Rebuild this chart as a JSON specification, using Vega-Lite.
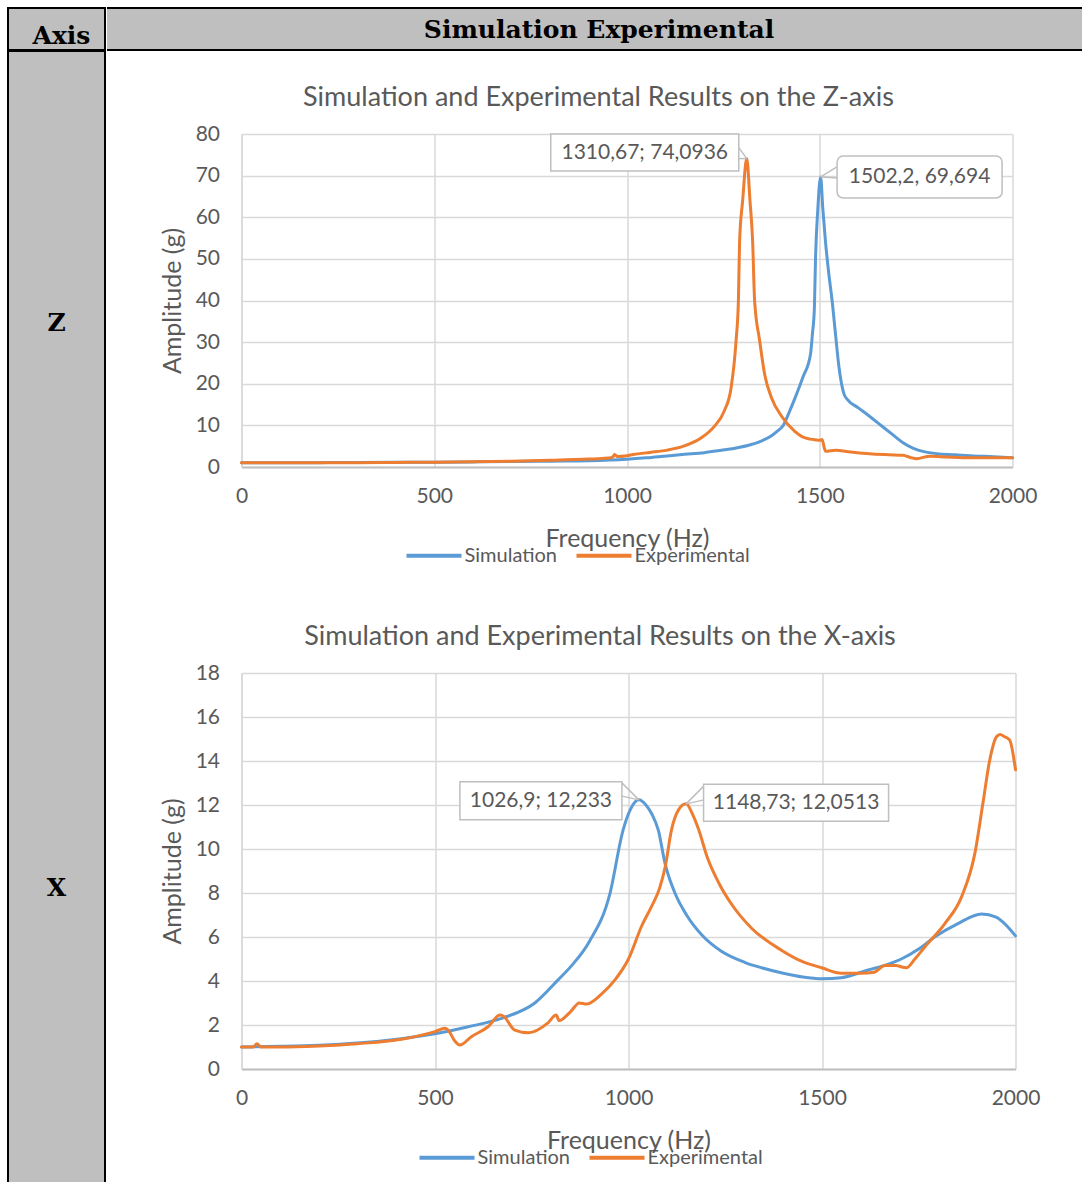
{
  "$schema": "https://vega.github.io/schema/vega-lite/v6.json",
  "padding": {"left": 7, "top": 7, "right": 0, "bottom": 0},
  "background": "white",
  "datasets": {
    "curves": [
      {"panel":"Z","series":"Simulation","f":0,"a":1.0},{"panel":"Z","series":"Simulation","f":100,"a":1.02},{"panel":"Z","series":"Simulation","f":200,"a":1.05},{"panel":"Z","series":"Simulation","f":300,"a":1.08},{"panel":"Z","series":"Simulation","f":400,"a":1.12},{"panel":"Z","series":"Simulation","f":500,"a":1.17},{"panel":"Z","series":"Simulation","f":600,"a":1.23},{"panel":"Z","series":"Simulation","f":700,"a":1.3},{"panel":"Z","series":"Simulation","f":800,"a":1.4},{"panel":"Z","series":"Simulation","f":900,"a":1.5},{"panel":"Z","series":"Simulation","f":1000,"a":1.85},{"panel":"Z","series":"Simulation","f":1050,"a":2.2},{"panel":"Z","series":"Simulation","f":1104,"a":2.67},{"panel":"Z","series":"Simulation","f":1150,"a":3.05},{"panel":"Z","series":"Simulation","f":1200,"a":3.45},{"panel":"Z","series":"Simulation","f":1235,"a":3.9},{"panel":"Z","series":"Simulation","f":1280,"a":4.5},{"panel":"Z","series":"Simulation","f":1322,"a":5.4},{"panel":"Z","series":"Simulation","f":1350,"a":6.3},{"panel":"Z","series":"Simulation","f":1375,"a":7.5},{"panel":"Z","series":"Simulation","f":1390,"a":8.6},{"panel":"Z","series":"Simulation","f":1406,"a":10.1},{"panel":"Z","series":"Simulation","f":1420,"a":13.0},{"panel":"Z","series":"Simulation","f":1436,"a":16.6},{"panel":"Z","series":"Simulation","f":1456,"a":21.5},{"panel":"Z","series":"Simulation","f":1476,"a":27.1},{"panel":"Z","series":"Simulation","f":1481,"a":32},{"panel":"Z","series":"Simulation","f":1486,"a":38},{"panel":"Z","series":"Simulation","f":1489,"a":50},{"panel":"Z","series":"Simulation","f":1495,"a":62},{"panel":"Z","series":"Simulation","f":1502.2,"a":69.694},{"panel":"Z","series":"Simulation","f":1508,"a":62},{"panel":"Z","series":"Simulation","f":1515,"a":54},{"panel":"Z","series":"Simulation","f":1524,"a":46},{"panel":"Z","series":"Simulation","f":1532,"a":40},{"panel":"Z","series":"Simulation","f":1541,"a":31.8},{"panel":"Z","series":"Simulation","f":1550,"a":23.9},{"panel":"Z","series":"Simulation","f":1563,"a":17.5},{"panel":"Z","series":"Simulation","f":1572,"a":16.2},{"panel":"Z","series":"Simulation","f":1600,"a":14.2},{"panel":"Z","series":"Simulation","f":1629,"a":12.2},{"panel":"Z","series":"Simulation","f":1660,"a":9.9},{"panel":"Z","series":"Simulation","f":1690,"a":7.7},{"panel":"Z","series":"Simulation","f":1715,"a":5.9},{"panel":"Z","series":"Simulation","f":1743,"a":4.5},{"panel":"Z","series":"Simulation","f":1770,"a":3.7},{"panel":"Z","series":"Simulation","f":1804,"a":3.2},{"panel":"Z","series":"Simulation","f":1850,"a":2.95},{"panel":"Z","series":"Simulation","f":1891,"a":2.7},{"panel":"Z","series":"Simulation","f":1950,"a":2.45},{"panel":"Z","series":"Simulation","f":2000,"a":2.2},
      {"panel":"Z","series":"Experimental","f":0,"a":1.0},{"panel":"Z","series":"Experimental","f":100,"a":1.0},{"panel":"Z","series":"Experimental","f":200,"a":1.02},{"panel":"Z","series":"Experimental","f":300,"a":1.05},{"panel":"Z","series":"Experimental","f":400,"a":1.1},{"panel":"Z","series":"Experimental","f":500,"a":1.15},{"panel":"Z","series":"Experimental","f":600,"a":1.25},{"panel":"Z","series":"Experimental","f":700,"a":1.4},{"panel":"Z","series":"Experimental","f":800,"a":1.6},{"panel":"Z","series":"Experimental","f":900,"a":1.9},{"panel":"Z","series":"Experimental","f":950,"a":2.15},{"panel":"Z","series":"Experimental","f":962,"a":2.3},{"panel":"Z","series":"Experimental","f":968,"a":3.0},{"panel":"Z","series":"Experimental","f":975,"a":2.5},{"panel":"Z","series":"Experimental","f":1000,"a":2.7},{"panel":"Z","series":"Experimental","f":1016,"a":3.0},{"panel":"Z","series":"Experimental","f":1060,"a":3.5},{"panel":"Z","series":"Experimental","f":1104,"a":4.05},{"panel":"Z","series":"Experimental","f":1147,"a":5.0},{"panel":"Z","series":"Experimental","f":1191,"a":6.9},{"panel":"Z","series":"Experimental","f":1226,"a":9.7},{"panel":"Z","series":"Experimental","f":1252,"a":13.4},{"panel":"Z","series":"Experimental","f":1270,"a":19.0},{"panel":"Z","series":"Experimental","f":1283,"a":30.4},{"panel":"Z","series":"Experimental","f":1289,"a":40},{"panel":"Z","series":"Experimental","f":1292,"a":54},{"panel":"Z","series":"Experimental","f":1300,"a":64},{"panel":"Z","series":"Experimental","f":1310.67,"a":74.0936},{"panel":"Z","series":"Experimental","f":1319,"a":64},{"panel":"Z","series":"Experimental","f":1326,"a":54},{"panel":"Z","series":"Experimental","f":1331,"a":40},{"panel":"Z","series":"Experimental","f":1344,"a":30.4},{"panel":"Z","series":"Experimental","f":1357,"a":22.3},{"panel":"Z","series":"Experimental","f":1375,"a":16.6},{"panel":"Z","series":"Experimental","f":1401,"a":12.2},{"panel":"Z","series":"Experimental","f":1436,"a":8.5},{"panel":"Z","series":"Experimental","f":1454,"a":7.3},{"panel":"Z","series":"Experimental","f":1475,"a":6.7},{"panel":"Z","series":"Experimental","f":1490,"a":6.5},{"panel":"Z","series":"Experimental","f":1500,"a":6.4},{"panel":"Z","series":"Experimental","f":1506,"a":6.6},{"panel":"Z","series":"Experimental","f":1512,"a":4.5},{"panel":"Z","series":"Experimental","f":1515,"a":3.8},{"panel":"Z","series":"Experimental","f":1541,"a":4.05},{"panel":"Z","series":"Experimental","f":1580,"a":3.6},{"panel":"Z","series":"Experimental","f":1629,"a":3.2},{"panel":"Z","series":"Experimental","f":1680,"a":2.95},{"panel":"Z","series":"Experimental","f":1716,"a":2.8},{"panel":"Z","series":"Experimental","f":1735,"a":2.3},{"panel":"Z","series":"Experimental","f":1751,"a":2.0},{"panel":"Z","series":"Experimental","f":1786,"a":2.6},{"panel":"Z","series":"Experimental","f":1830,"a":2.4},{"panel":"Z","series":"Experimental","f":1891,"a":2.2},{"panel":"Z","series":"Experimental","f":2000,"a":2.2},
      {"panel":"X","series":"Simulation","f":0,"a":1.0},{"panel":"X","series":"Simulation","f":100,"a":1.03},{"panel":"X","series":"Simulation","f":200,"a":1.08},{"panel":"X","series":"Simulation","f":300,"a":1.18},{"panel":"X","series":"Simulation","f":413,"a":1.38},{"panel":"X","series":"Simulation","f":500,"a":1.6},{"panel":"X","series":"Simulation","f":586,"a":1.92},{"panel":"X","series":"Simulation","f":672,"a":2.3},{"panel":"X","series":"Simulation","f":758,"a":3.0},{"panel":"X","series":"Simulation","f":818,"a":4.05},{"panel":"X","series":"Simulation","f":853,"a":4.7},{"panel":"X","series":"Simulation","f":899,"a":5.8},{"panel":"X","series":"Simulation","f":951,"a":7.9},{"panel":"X","series":"Simulation","f":986,"a":10.86},{"panel":"X","series":"Simulation","f":1005,"a":11.8},{"panel":"X","series":"Simulation","f":1026.9,"a":12.233},{"panel":"X","series":"Simulation","f":1045,"a":12.0},{"panel":"X","series":"Simulation","f":1060,"a":11.6},{"panel":"X","series":"Simulation","f":1077,"a":10.86},{"panel":"X","series":"Simulation","f":1095,"a":9.3},{"panel":"X","series":"Simulation","f":1120,"a":8.0},{"panel":"X","series":"Simulation","f":1150,"a":7.0},{"panel":"X","series":"Simulation","f":1189,"a":6.1},{"panel":"X","series":"Simulation","f":1240,"a":5.35},{"panel":"X","series":"Simulation","f":1300,"a":4.85},{"panel":"X","series":"Simulation","f":1344,"a":4.6},{"panel":"X","series":"Simulation","f":1400,"a":4.35},{"panel":"X","series":"Simulation","f":1450,"a":4.18},{"panel":"X","series":"Simulation","f":1500,"a":4.1},{"panel":"X","series":"Simulation","f":1550,"a":4.15},{"panel":"X","series":"Simulation","f":1619,"a":4.5},{"panel":"X","series":"Simulation","f":1660,"a":4.7},{"panel":"X","series":"Simulation","f":1705,"a":5.0},{"panel":"X","series":"Simulation","f":1750,"a":5.45},{"panel":"X","series":"Simulation","f":1791,"a":6.0},{"panel":"X","series":"Simulation","f":1850,"a":6.6},{"panel":"X","series":"Simulation","f":1912,"a":7.05},{"panel":"X","series":"Simulation","f":1950,"a":6.9},{"panel":"X","series":"Simulation","f":1975,"a":6.55},{"panel":"X","series":"Simulation","f":2000,"a":6.05},
      {"panel":"X","series":"Experimental","f":0,"a":1.0},{"panel":"X","series":"Experimental","f":30,"a":1.0},{"panel":"X","series":"Experimental","f":40,"a":1.15},{"panel":"X","series":"Experimental","f":50,"a":1.0},{"panel":"X","series":"Experimental","f":100,"a":1.0},{"panel":"X","series":"Experimental","f":200,"a":1.05},{"panel":"X","series":"Experimental","f":300,"a":1.15},{"panel":"X","series":"Experimental","f":413,"a":1.35},{"panel":"X","series":"Experimental","f":500,"a":1.7},{"panel":"X","series":"Experimental","f":526,"a":1.85},{"panel":"X","series":"Experimental","f":535,"a":1.75},{"panel":"X","series":"Experimental","f":550,"a":1.3},{"panel":"X","series":"Experimental","f":564,"a":1.09},{"panel":"X","series":"Experimental","f":594,"a":1.47},{"panel":"X","series":"Experimental","f":637,"a":1.92},{"panel":"X","series":"Experimental","f":668,"a":2.45},{"panel":"X","series":"Experimental","f":677,"a":2.4},{"panel":"X","series":"Experimental","f":706,"a":1.77},{"panel":"X","series":"Experimental","f":741,"a":1.65},{"panel":"X","series":"Experimental","f":792,"a":2.1},{"panel":"X","series":"Experimental","f":813,"a":2.45},{"panel":"X","series":"Experimental","f":821,"a":2.2},{"panel":"X","series":"Experimental","f":850,"a":2.6},{"panel":"X","series":"Experimental","f":873,"a":3.0},{"panel":"X","series":"Experimental","f":891,"a":2.95},{"panel":"X","series":"Experimental","f":930,"a":3.4},{"panel":"X","series":"Experimental","f":965,"a":4.05},{"panel":"X","series":"Experimental","f":1000,"a":5.0},{"panel":"X","series":"Experimental","f":1034,"a":6.5},{"panel":"X","series":"Experimental","f":1060,"a":7.4},{"panel":"X","series":"Experimental","f":1080,"a":8.2},{"panel":"X","series":"Experimental","f":1095,"a":9.2},{"panel":"X","series":"Experimental","f":1111,"a":10.86},{"panel":"X","series":"Experimental","f":1130,"a":11.8},{"panel":"X","series":"Experimental","f":1148.73,"a":12.0513},{"panel":"X","series":"Experimental","f":1165,"a":11.6},{"panel":"X","series":"Experimental","f":1181,"a":10.9},{"panel":"X","series":"Experimental","f":1204,"a":9.6},{"panel":"X","series":"Experimental","f":1235,"a":8.4},{"panel":"X","series":"Experimental","f":1266,"a":7.5},{"panel":"X","series":"Experimental","f":1318,"a":6.4},{"panel":"X","series":"Experimental","f":1395,"a":5.4},{"panel":"X","series":"Experimental","f":1447,"a":4.9},{"panel":"X","series":"Experimental","f":1499,"a":4.6},{"panel":"X","series":"Experimental","f":1550,"a":4.35},{"panel":"X","series":"Experimental","f":1600,"a":4.35},{"panel":"X","series":"Experimental","f":1635,"a":4.4},{"panel":"X","series":"Experimental","f":1662,"a":4.7},{"panel":"X","series":"Experimental","f":1690,"a":4.7},{"panel":"X","series":"Experimental","f":1718,"a":4.6},{"panel":"X","series":"Experimental","f":1740,"a":5.0},{"panel":"X","series":"Experimental","f":1766,"a":5.56},{"panel":"X","series":"Experimental","f":1817,"a":6.6},{"panel":"X","series":"Experimental","f":1860,"a":7.8},{"panel":"X","series":"Experimental","f":1895,"a":9.8},{"panel":"X","series":"Experimental","f":1916,"a":12.1},{"panel":"X","series":"Experimental","f":1933,"a":14.0},{"panel":"X","series":"Experimental","f":1951,"a":15.1},{"panel":"X","series":"Experimental","f":1960,"a":15.2},{"panel":"X","series":"Experimental","f":1972,"a":15.1},{"panel":"X","series":"Experimental","f":1985,"a":14.95},{"panel":"X","series":"Experimental","f":2000,"a":13.6}
    ],
    "peaks": [
      {"panel":"Z","series":"Experimental","f":1310.67,"a":74.0936,"label":"1310,67; 74,0936"},
      {"panel":"Z","series":"Simulation","f":1502.2,"a":69.694,"label":"1502,2, 69,694"},
      {"panel":"X","series":"Simulation","f":1026.9,"a":12.233,"label":"1026,9; 12,233"},
      {"panel":"X","series":"Experimental","f":1148.73,"a":12.0513,"label":"1148,73; 12,0513"}
    ]
  },
  "spacing": -2,
  "resolve": {"scale": {"color": "independent"}, "legend": {"color": "independent"}},
  "hconcat": [
    {
      "spacing": -2,
      "vconcat": [
        {
          "width": 97, "height": 42,
          "view": {"fill": "#BFBFBF", "stroke": "black", "strokeWidth": 2},
          "data": {"values": [{"t": "Axis"}]},
          "mark": {"type": "text", "font": "DejaVu Serif", "fontWeight": "bold", "fontSize": 25, "color": "black", "dx": 5, "dy": 7},
          "encoding": {"text": {"field": "t"}}
        },
        {
          "width": 97, "height": 1131,
          "view": {"fill": "#BFBFBF", "stroke": "black", "strokeWidth": 2, "strokeDash": [1228, 97, 1131, 0]},
          "data": {"values": [{"t": "Z"}, {"t": "X"}]},
          "mark": {"type": "text", "font": "DejaVu Serif", "fontWeight": "bold", "fontSize": 25, "color": "black", "dy": -11},
          "encoding": {
            "y": {"field": "t", "type": "nominal", "sort": null, "axis": null, "scale": {"type": "point", "padding": 0.5}},
            "text": {"field": "t"}
          }
        }
      ]
    },
    {
      "spacing": 33,
      "resolve": {"scale": {"color": "independent"}, "legend": {"color": "independent"}},
      "vconcat": [
        {
          "width": 976, "height": 42,
          "view": {"fill": "#BFBFBF", "stroke": "black", "strokeWidth": 2, "strokeDash": [976, 42, 976, 42]},
          "data": {"values": [{"t": "Simulation Experimental"}]},
          "mark": {"type": "text", "font": "DejaVu Serif", "fontWeight": "bold", "fontSize": 25, "color": "black", "dx": 4, "dy": 1},
          "encoding": {"text": {"field": "t"}}
        },
        {
          "spacing": 48.5,
          "resolve": {"scale": {"color": "independent"}, "legend": {"color": "independent"}},
          "hconcat": [
            {
              "width": 1, "height": 1,
              "view": {"fill": "white", "stroke": null},
              "data": {"values": [{"t": ""}]},
              "mark": {"type": "point", "opacity": 0}
            },
            {
              "spacing": 57,
              "resolve": {"scale": {"color": "independent"}, "legend": {"color": "independent"}},
              "vconcat": [
                {
                  "width": 771, "height": 333,
                  "title": "Simulation and Experimental Results on the Z-axis",
                  "encoding": {
                    "x": {"field": "f", "type": "quantitative", "scale": {"domain": [0, 2000], "nice": false, "zero": false},
                          "axis": {"values": [0, 500, 1000, 1500, 2000], "title": "Frequency (Hz)", "labelFlush": false, "format": "d"}},
                    "y": {"field": "a", "type": "quantitative", "scale": {"domain": [0, 80], "nice": false},
                          "axis": {"values": [0, 10, 20, 30, 40, 50, 60, 70, 80], "title": "Amplitude (g)"}}
                  },
                  "layer": [
                    {
                      "data": {"name": "curves"},
                      "transform": [{"filter": "datum.panel == 'Z'"}],
                      "mark": {"type": "line", "strokeWidth": 3, "interpolate": "monotone", "strokeCap": "round", "strokeJoin": "round"},
                      "encoding": {
                        "color": {"field": "series", "type": "nominal",
                                  "scale": {"domain": ["Simulation", "Experimental"], "range": ["#5B9BD5", "#ED7D31"]},
                                  "legend": {"orient": "none", "legendX": 163, "legendY": 392, "direction": "horizontal", "title": null}}
                      }
                    },
                    {
                      "data": {"name": "peaks"},
                      "transform": [{"filter": "datum.label == '1310,67; 74,0936'"}],
                      "layer": [
                        {"mark": {"type": "rule", "stroke": "#BFBFBF", "strokeWidth": 1.5, "x2Offset": -8, "y2Offset": -11}, "encoding": {"x2": {"field": "f"}, "y2": {"field": "a"}}},
                        {"mark": {"type": "rule", "stroke": "#BFBFBF", "strokeWidth": 1.5, "x2Offset": -8, "y2Offset": 0}, "encoding": {"x2": {"field": "f"}, "y2": {"field": "a"}}},
                        {"mark": {"type": "rect", "width": 188, "height": 37, "xOffset": -102, "yOffset": -6, "fill": "white", "stroke": "#BFBFBF", "strokeWidth": 1.5}},
                        {"mark": {"type": "text", "dx": -102, "dy": -6, "font": "Lato", "fontSize": 21, "color": "#595959"}, "encoding": {"text": {"field": "label"}}}
                      ]
                    },
                    {
                      "data": {"name": "peaks"},
                      "transform": [{"filter": "datum.label == '1502,2, 69,694'"}],
                      "layer": [
                        {"mark": {"type": "rule", "stroke": "#BFBFBF", "strokeWidth": 1.5, "x2Offset": 18, "y2Offset": -11}, "encoding": {"x2": {"field": "f"}, "y2": {"field": "a"}}},
                        {"mark": {"type": "rule", "stroke": "#BFBFBF", "strokeWidth": 1.5, "x2Offset": 18, "y2Offset": 1}, "encoding": {"x2": {"field": "f"}, "y2": {"field": "a"}}},
                        {"mark": {"type": "rect", "width": 165, "height": 42, "xOffset": 99, "yOffset": 0, "fill": "white", "stroke": "#BFBFBF", "strokeWidth": 1.5, "cornerRadius": 6}},
                        {"mark": {"type": "text", "dx": 99, "dy": 0, "font": "Lato", "fontSize": 21, "color": "#595959"}, "encoding": {"text": {"field": "label"}}}
                      ]
                    }
                  ]
                },
                {
                  "width": 774, "height": 396,
                  "title": "Simulation and Experimental Results on the X-axis",
                  "encoding": {
                    "x": {"field": "f", "type": "quantitative", "scale": {"domain": [0, 2000], "nice": false, "zero": false},
                          "axis": {"values": [0, 500, 1000, 1500, 2000], "title": "Frequency (Hz)", "labelFlush": false, "format": "d"}},
                    "y": {"field": "a", "type": "quantitative", "scale": {"domain": [0, 18], "nice": false},
                          "axis": {"values": [0, 2, 4, 6, 8, 10, 12, 14, 16, 18], "title": "Amplitude (g)"}}
                  },
                  "layer": [
                    {
                      "data": {"name": "curves"},
                      "transform": [{"filter": "datum.panel == 'X'"}],
                      "mark": {"type": "line", "strokeWidth": 3, "interpolate": "monotone", "strokeCap": "round", "strokeJoin": "round"},
                      "encoding": {
                        "color": {"field": "series", "type": "nominal",
                                  "scale": {"domain": ["Simulation", "Experimental"], "range": ["#5B9BD5", "#ED7D31"]},
                                  "legend": {"orient": "none", "legendX": 176, "legendY": 455, "direction": "horizontal", "title": null}}
                      }
                    },
                    {
                      "data": {"name": "peaks"},
                      "transform": [{"filter": "datum.label == '1026,9; 12,233'"}],
                      "layer": [
                        {"mark": {"type": "rule", "stroke": "#BFBFBF", "strokeWidth": 1.5, "x2Offset": -18, "y2Offset": -18}, "encoding": {"x2": {"field": "f"}, "y2": {"field": "a"}}},
                        {"mark": {"type": "rule", "stroke": "#BFBFBF", "strokeWidth": 1.5, "x2Offset": -18, "y2Offset": -4}, "encoding": {"x2": {"field": "f"}, "y2": {"field": "a"}}},
                        {"mark": {"type": "rect", "width": 162, "height": 38, "xOffset": -98, "yOffset": 1, "fill": "white", "stroke": "#BFBFBF", "strokeWidth": 1.5}},
                        {"mark": {"type": "text", "dx": -98, "dy": 1, "font": "Lato", "fontSize": 21, "color": "#595959"}, "encoding": {"text": {"field": "label"}}}
                      ]
                    },
                    {
                      "data": {"name": "peaks"},
                      "transform": [{"filter": "datum.label == '1148,73; 12,0513'"}],
                      "layer": [
                        {"mark": {"type": "rule", "stroke": "#BFBFBF", "strokeWidth": 1.5, "x2Offset": 18, "y2Offset": -18}, "encoding": {"x2": {"field": "f"}, "y2": {"field": "a"}}},
                        {"mark": {"type": "rule", "stroke": "#BFBFBF", "strokeWidth": 1.5, "x2Offset": 18, "y2Offset": -4}, "encoding": {"x2": {"field": "f"}, "y2": {"field": "a"}}},
                        {"mark": {"type": "rect", "width": 185, "height": 37, "xOffset": 110, "yOffset": -1, "fill": "white", "stroke": "#BFBFBF", "strokeWidth": 1.5}},
                        {"mark": {"type": "text", "dx": 110, "dy": -1, "font": "Lato", "fontSize": 21, "color": "#595959"}, "encoding": {"text": {"field": "label"}}}
                      ]
                    }
                  ]
                }
              ]
            }
          ]
        }
      ]
    }
  ],
  "config": {
    "view": {"stroke": null},
    "font": "Lato",
    "title": {"font": "Lato", "fontSize": 27, "fontWeight": "normal", "color": "#595959", "baseline": "bottom", "offset": 11, "frame": "bounds", "anchor": "middle"},
    "axis": {"labelFont": "Lato", "labelFontSize": 21, "labelColor": "#595959", "titleFont": "Lato", "titleFontSize": 25, "titleFontWeight": "normal", "titleColor": "#595959", "gridColor": "#D9D9D9", "gridWidth": 1.5, "ticks": false, "domainColor": "#D9D9D9", "domainWidth": 1.5, "labelOverlap": false},
    "axisX": {"domainColor": "#BFBFBF", "domainWidth": 2, "labelPadding": 18, "titlePadding": 20},
    "axisY": {"labelPadding": 22, "titlePadding": 10},
    "legend": {"symbolType": "stroke", "symbolSize": 3025, "symbolStrokeWidth": 4, "labelFont": "Lato", "labelFontSize": 20, "labelColor": "#595959", "columnPadding": 11, "labelOffset": 1, "padding": 0}
  }
}
